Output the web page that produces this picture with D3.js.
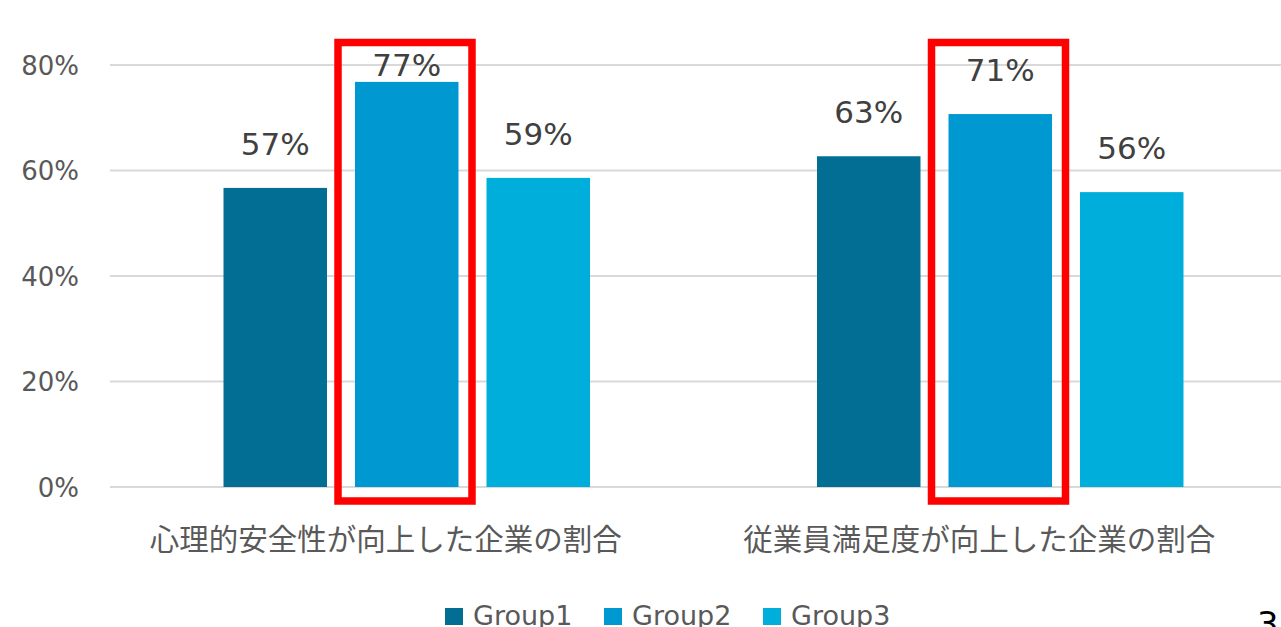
<!DOCTYPE html>
<html>
<head>
<meta charset="utf-8">
<script src="https://cdn.jsdelivr.net/npm/d3@7"></script>
<style>
  body { margin: 0; background: #fff; overflow: hidden; }
  text { font-family: "DejaVu Sans", "Noto Sans CJK JP", sans-serif; }
</style>
</head>
<body>
<div class="container"></div>
<script>
var categories = ["心理的安全性が向上した企業の割合", "従業員満足度が向上した企業の割合"];
var groups = ["Group1", "Group2", "Group3"];
var group1 = [0.567, 0.627];
var group2 = [0.768, 0.707];
var group3 = [0.586, 0.559];
var yTicks = [0, 0.2, 0.4, 0.6, 0.8];
var colors = ["#036e93", "#0098d0", "#00aedb"];
var highlighted = "Group2";
var pageNumber = "3";

var width = 1281, height = 627;

var series = [group1, group2, group3];
var data = [];
categories.forEach(function (c, i) {
    groups.forEach(function (g, j) {
        data.push({ cat: c, group: g, value: series[j][i] });
    });
});

var svg = d3.select(".container")
    .append("svg")
    .attr("width", width)
    .attr("height", height);

var x0 = d3.scaleBand()
    .domain(categories)
    .range([110, 1297]);

var x1 = d3.scaleBand()
    .domain(groups)
    .range([0, 366.5])
    .paddingInner(0.213);

var y = d3.scaleLinear()
    .domain([0, 0.8])
    .range([487, 65]);

var color = d3.scaleOrdinal().domain(groups).range(colors);

function barX(d) {
    return x0(d.cat) + x0.bandwidth() / 2 - 183.25 + x1(d.group);
}

// gridlines
svg.append("g")
    .selectAll("line")
    .data(yTicks)
    .enter()
    .append("line")
    .attr("x1", 110)
    .attr("x2", width)
    .attr("y1", function (d) { return y(d); })
    .attr("y2", function (d) { return y(d); })
    .attr("stroke", "#d9d9d9")
    .attr("stroke-width", 2);

// y axis labels
var yAxis = svg.append("g")
    .attr("transform", "translate(79,0)")
    .call(d3.axisLeft(y).tickValues(yTicks).tickFormat(d3.format(".0%")).tickSize(0).tickPadding(0));
yAxis.select(".domain").remove();
yAxis.selectAll("text")
    .style("font-family", "'DejaVu Sans', sans-serif")
    .style("font-size", "26px")
    .attr("fill", "#595959")
    .attr("dy", "0.36em");

// bars
svg.append("g")
    .selectAll("rect")
    .data(data)
    .enter()
    .append("rect")
    .attr("x", barX)
    .attr("y", function (d) { return y(d.value); })
    .attr("width", x1.bandwidth())
    .attr("height", function (d) { return y(0) - y(d.value); })
    .attr("fill", function (d) { return color(d.group); });

// value labels
svg.append("g")
    .selectAll("text")
    .data(data)
    .enter()
    .append("text")
    .attr("x", function (d) { return barX(d) + x1.bandwidth() / 2; })
    .attr("y", function (d) { return Math.max(y(d.value) - 33, 76); })
    .attr("text-anchor", "middle")
    .style("font-size", "31px")
    .attr("fill", "#404040")
    .text(function (d) { return Math.round(d.value * 100) + "%"; });

// highlight boxes around Group2
svg.append("g")
    .selectAll("rect")
    .data(data.filter(function (d) { return d.group === highlighted; }))
    .enter()
    .append("rect")
    .attr("x", function (d) { return barX(d) - 17; })
    .attr("y", 42.5)
    .attr("width", x1.bandwidth() + 30.5)
    .attr("height", 458.5)
    .attr("fill", "none")
    .attr("stroke", "#ff0000")
    .attr("stroke-width", 7.5);

// category labels
svg.append("g")
    .selectAll("text")
    .data(categories)
    .enter()
    .append("text")
    .attr("x", function (d) { return x0(d) + x0.bandwidth() / 2 - 21; })
    .attr("y", 550)
    .attr("text-anchor", "middle")
    .style("font-family", "'Noto Sans CJK JP', sans-serif")
    .style("font-size", "29.5px")
    .attr("fill", "#595959")
    .text(function (d) { return d; });

// legend
var legendX = [445, 604, 763];
var legend = svg.append("g")
    .selectAll("g")
    .data(groups)
    .enter()
    .append("g")
    .attr("transform", function (d, i) { return "translate(" + legendX[i] + ",608)"; });
legend.append("rect")
    .attr("width", 18)
    .attr("height", 17)
    .attr("fill", function (d) { return color(d); });
legend.append("text")
    .attr("x", 28)
    .attr("y", 17)
    .style("font-size", "27px")
    .attr("fill", "#595959")
    .text(function (d) { return d; });

// page number
svg.append("text")
    .attr("x", 1257)
    .attr("y", 636)
    .style("font-size", "34px")
    .attr("fill", "#000")
    .text(pageNumber);
</script>
</body>
</html>
